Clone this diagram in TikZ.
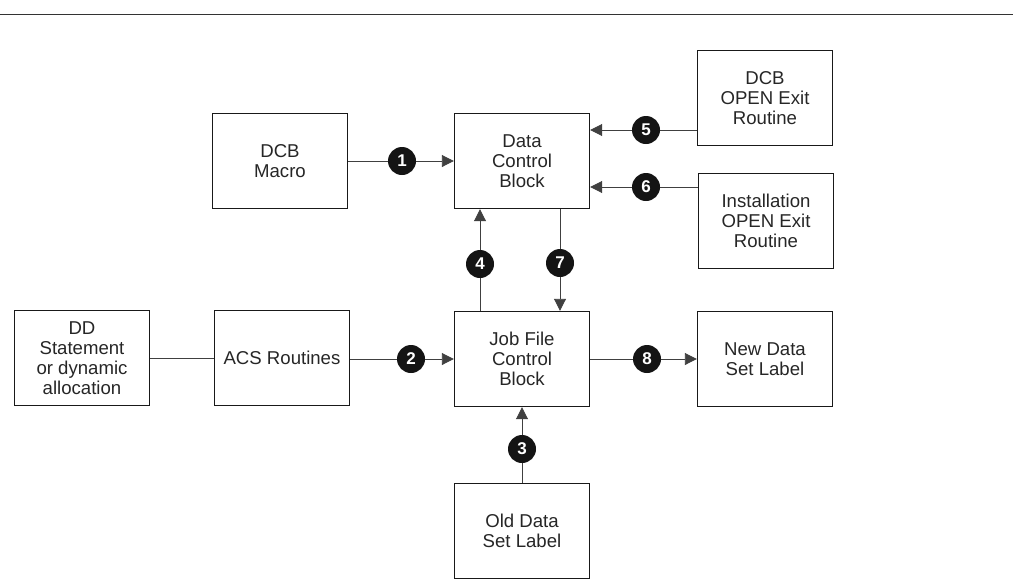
\documentclass[tikz,border=0pt]{standalone}
\usepackage{fontspec}
\setmainfont{Liberation Sans}
\usetikzlibrary{arrows.meta,positioning}
\begin{document}
\begin{tikzpicture}[x=1pt,y=-1pt,
  box/.style={draw=black!90,line width=1.4pt,minimum width=135pt,minimum height=95pt,
    align=center,inner sep=0pt,font=\fontsize{18.6}{20}\selectfont,text=black!85},
  num/.style={circle,fill=black!92,minimum size=28pt,inner sep=0pt,
    text=white,font=\fontsize{17}{17}\selectfont\bfseries},
  conn/.style={draw=black!75,line width=0.9pt},
  arr/.style={conn,-{Triangle[length=12pt,width=12pt]}}]
\useasboundingbox (0,0) rectangle (1013,584);
\coordinate (tl) at (0,14);
\coordinate (tr) at (1013,14);
\draw[black!80,line width=0.9pt] (tl) -- (tr);
% boxes
\node[box] (macro) at (280,161) {DCB\\Macro};
\node[box] (dcb) at (522,161) {Data\\Control\\Block};
\node[box] (dexit) at (765,98) {DCB\\OPEN Exit\\Routine};
\node[box] (iexit) at (766,221) {Installation\\OPEN Exit\\Routine};
\node[box] (dd) at (82,358) {DD\\Statement\\or dynamic\\allocation};
\node[box] (acs) at (282,358) {ACS Routines};
\node[box] (jfcb) at (522,359) {Job File\\Control\\Block};
\node[box] (newl) at (765,359) {New Data\\Set Label};
\node[box] (oldl) at (522,531) {Old Data\\Set Label};
% number circles
\node[num] (n1) at (402,161) {1};
\node[num] (n2) at (411,359) {2};
\node[num] (n3) at (522,449) {3};
\node[num] (n4) at (480,264) {4};
\node[num] (n5) at (646,130) {5};
\node[num] (n6) at (646,187) {6};
\node[num] (n7) at (560,263) {7};
\node[num] (n8) at (647,359) {8};
% connectors
\draw[conn] (macro.east) -- (n1);
\draw[arr] (n1) -- (dcb.west);
\draw[conn] (dd.east |- acs.west) -- (acs.west);
\draw[conn] (acs.east |- n2) -- (n2);
\draw[arr] (n2) -- (n2 -| jfcb.west);
\draw[conn] (oldl.north) -- (n3);
\draw[arr] (n3) -- (jfcb.south);
\draw[conn] (n4 |- jfcb.north) -- (n4);
\draw[arr] (n4) -- (n4 |- dcb.south);
\draw[conn] (n5 -| dexit.west) -- (n5);
\draw[arr] (n5) -- (n5 -| dcb.east);
\draw[conn] (n6 -| iexit.west) -- (n6);
\draw[arr] (n6) -- (n6 -| dcb.east);
\draw[conn] (n7 |- dcb.south) -- (n7);
\draw[arr] (n7) -- (n7 |- jfcb.north);
\draw[conn] (jfcb.east |- n8) -- (n8);
\draw[arr] (n8) -- (n8 -| newl.west);
\end{tikzpicture}
\end{document}
